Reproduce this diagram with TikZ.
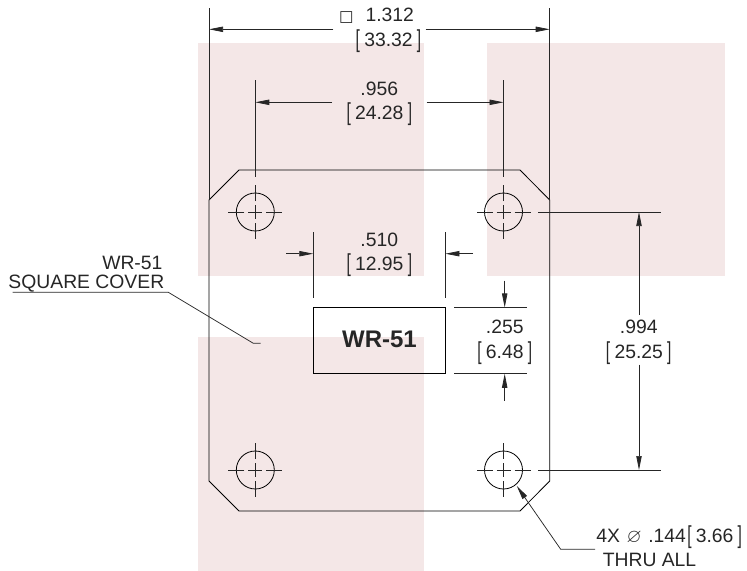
\documentclass[tikz,border=0pt]{standalone}
\usepackage{graphicx}
\usepackage{amssymb}
\usepackage{fontspec}
\setmainfont{Liberation Sans}
\newfontfamily\symfont{DejaVu Sans}
\usetikzlibrary{arrows.meta}

\definecolor{zonepink}{HTML}{F4E7E7}
\definecolor{inkgray}{HTML}{262626}

% tall thin brackets round the metric value
\newcommand{\brk}[1]{\raisebox{-0.9pt}{\scalebox{0.8}[1.27]{[}}\hspace{3.2pt}#1\hspace{3.2pt}\raisebox{-0.9pt}{\scalebox{0.8}[1.27]{]}}}

\tikzset{
  zone/.style={fill=zonepink, draw=none},
  outline/.style={draw=black, line width=0.6pt},
  dimline/.style={draw=inkgray, line width=0.55pt},
  centermark/.style={draw=inkgray, line width=0.5pt},
  dimlabel/.style={anchor=base, inner sep=0pt, text=inkgray, font=\fontsize{14.5}{16}\selectfont},
}

\begin{document}
\begin{tikzpicture}[x=0.75pt, y=-0.75pt, >={Triangle[length=10.5pt,width=4pt]}]

\useasboundingbox (0,0) rectangle (747,571);

% Pink zones
\fill[zone] (198,43) rectangle (424,276);
\fill[zone] (487,43) rectangle (725,276);
\fill[zone] (198,337) rectangle (424,571);

% Cover outline
\draw[outline] (239,170) -- (520,170) -- (549.7,200) -- (549.7,481) -- (520,511)
  -- (239,511) -- (209,481) -- (209,200) -- cycle;

% Waveguide opening
\draw[outline] (313.3,307.4) rectangle (445.4,373.8);
\node[dimlabel, font=\fontsize{18}{20}\bfseries] (portname) at (379.5,347.5) {WR-51};

% Holes
\foreach \hx/\hy in {255.3/212, 503.5/212, 255.3/470, 503.5/470} {
  \draw[outline] (\hx,\hy) circle[radius=19];
  \draw[centermark] (\hx-7,\hy) -- (\hx+7,\hy);
  \draw[centermark] (\hx,\hy-7) -- (\hx,\hy+7);
  \foreach \sgn in {-1,1} {
    \draw[centermark] (\hx+\sgn*11,\hy) -- (\hx+\sgn*27,\hy);
    \draw[centermark] (\hx,\hy+\sgn*11) -- (\hx,\hy+\sgn*27);
  }
}

% Overall width
\draw[dimline] (209,8) -- (209,200);
\draw[dimline] (549.7,8) -- (549.7,200);
\draw[dimline, ->] (333.3,29.3) -- (209,29.3);
\draw[dimline, ->] (425.5,29.3) -- (549.7,29.3);
\node[dimlabel] (widthin) at (376.5,21.5) {{\symfont\fontsize{11.5}{16}\selectfont □}\hspace{9pt}1.312};
\node[dimlabel] (widthmm) at (388.5,46) {\brk{33.32}};

% Hole spacing, horizontal
\draw[dimline] (255.3,80) -- (255.3,177);
\draw[dimline] (503.5,80) -- (503.5,177);
\draw[dimline, ->] (332,102.3) -- (255.3,102.3);
\draw[dimline, ->] (426.7,102.3) -- (503.5,102.3);
\node[dimlabel] (spacingin) at (379.3,95.7) {.956};
\node[dimlabel] (spacingmm) at (379.3,119.4) {\brk{24.28}};

% Opening width
\draw[dimline] (313.3,232) -- (313.3,298);
\draw[dimline] (445.4,232) -- (445.4,298);
\draw[dimline, ->] (286,253.7) -- (313.3,253.7);
\draw[dimline, ->] (473,253.7) -- (445.4,253.7);
\node[dimlabel] (openwin) at (379.3,246.7) {.510};
\node[dimlabel] (openwmm) at (379.3,270.7) {\brk{12.95}};

% Opening height
\draw[dimline] (454,307.4) -- (526.7,307.4);
\draw[dimline] (454,373.8) -- (526.7,373.8);
\draw[dimline, ->] (504.7,280.7) -- (504.7,307.4);
\draw[dimline, ->] (504.7,400.7) -- (504.7,373.8);
\node[dimlabel] (openhin) at (504.7,333.4) {.255};
\node[dimlabel] (openhmm) at (504.7,358) {\brk{6.48}};

% Hole spacing, vertical
\draw[dimline] (538,212) -- (660.5,212);
\draw[dimline] (538,470) -- (660.5,470);
\draw[dimline, ->] (639,315) -- (639,212);
\draw[dimline, ->] (639,364.7) -- (639,470);
\node[dimlabel] (pitchin) at (638.7,333.4) {.994};
\node[dimlabel] (pitchmm) at (638.7,358) {\brk{25.25}};

% Cover callout
\node[dimlabel, anchor=base east] (covername) at (162.7,269.4) {WR-51};
\node[dimlabel, anchor=base east] (covertype) at (164.5,288.4) {SQUARE COVER};
\draw[dimline] (12.7,292.3) -- (168.3,292.3) -- (253.3,343.3) -- (260.7,343.3);

% Hole callout
\draw[dimline, ->] (595,549.3) -- (560.7,549.3) -- (516.8,486);
\node[dimlabel, anchor=base west] (holesize) at (596,542.4) {4X\hspace{5pt}$\varnothing$\hspace{5pt}.144\hspace{1pt}\brk{3.66}};
\node[dimlabel, anchor=base west] (holethru) at (602.5,566.7) {THRU ALL};

\end{tikzpicture}
\end{document}
